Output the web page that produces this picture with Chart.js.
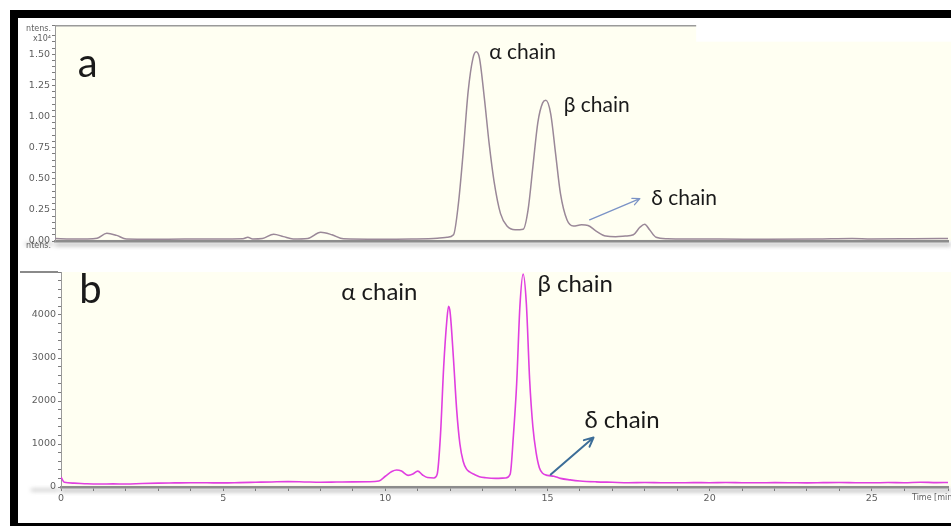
<!DOCTYPE html>
<html>
<head>
<meta charset="utf-8">
<title>Globin chains</title>
<script src="https://cdn.jsdelivr.net/npm/chart.js@4.4.0/dist/chart.umd.min.js"></script>
<style>
  html, body { margin: 0; padding: 0; background: #fff; }
  body { width: 951px; height: 526px; position: relative; overflow: hidden; }
  .frame { position: absolute; left: 10px; top: 10px; width: 960px; height: 521px; border: 8px solid #000; box-sizing: border-box; background: #fff; }
  canvas { position: absolute; }
  #chartA { left: 17px; top: 18px; }
  #chartB { left: 17px; top: 260px; }
</style>
</head>
<body>
<div class="frame"></div>
<canvas id="chartA" width="934" height="242"></canvas>
<canvas id="chartB" width="934" height="263"></canvas>
<script>
// trace a: retention time (min) and intensity (x10^4)
const timeA = [0, 0.5, 1.0, 1.3, 1.6, 1.9, 2.2, 3.0, 4.0, 5.0, 5.8, 5.95, 6.1, 6.4, 6.75, 7.05, 7.35, 7.8, 8.2, 8.55,
  8.9, 10.0, 11.0, 11.8, 12.1, 12.3, 12.45, 12.6, 12.75, 12.9, 13.0, 13.1, 13.25, 13.4, 13.55, 13.75, 13.95, 14.2, 14.45, 14.6,
  14.75, 14.9, 15.05, 15.15, 15.3, 15.45, 15.6, 15.8, 16.0, 16.25, 16.45, 16.7, 17.0, 17.3, 17.6, 17.85, 18.05, 18.2, 18.35, 18.55,
  18.9, 19.5, 20.5, 22.0, 23.5, 24.6, 25.2, 26.5, 27.56];
const intensA = [0.02, 0.016, 0.016, 0.022, 0.062, 0.045, 0.016, 0.014, 0.016, 0.016, 0.018, 0.03, 0.016, 0.02, 0.055, 0.035, 0.016, 0.02, 0.07, 0.05,
  0.018, 0.014, 0.016, 0.022, 0.03, 0.05, 0.3, 0.72, 1.2, 1.47, 1.52, 1.47, 1.15, 0.78, 0.48, 0.22, 0.12, 0.09, 0.095, 0.25,
  0.6, 0.95, 1.11, 1.13, 1.02, 0.7, 0.38, 0.17, 0.12, 0.13, 0.125, 0.08, 0.04, 0.035, 0.04, 0.05, 0.11, 0.135, 0.09, 0.03,
  0.018, 0.016, 0.016, 0.014, 0.016, 0.02, 0.016, 0.018, 0.02];

// trace b: retention time (min) and intensity (counts)
const timeB = [0, 0.1, 0.4, 0.8, 1.2, 1.6, 2.0, 2.5, 3.0, 3.5, 4.0, 4.5, 5.0, 5.5, 6.0, 6.5, 7.0, 7.5, 8.0, 8.5,
  9.0, 9.5, 9.8, 10.0, 10.2, 10.35, 10.5, 10.7, 10.85, 11.0, 11.15, 11.3, 11.5, 11.6, 11.7, 11.8, 11.9, 11.95, 12.0, 12.1,
  12.2, 12.3, 12.4, 12.5, 12.6, 12.75, 12.9, 13.1, 13.4, 13.7, 13.85, 13.95, 14.05, 14.15, 14.25, 14.35, 14.45, 14.55, 14.65, 14.75,
  14.85, 15.0, 15.2, 15.4, 15.7, 16.0, 16.5, 17.0, 17.5, 18.0, 18.5, 19.0, 19.5, 20.0, 20.5, 21.0, 21.5, 22.0, 22.5, 23.0,
  23.5, 24.0, 24.5, 25.0, 25.5, 26.0, 26.5, 27.0, 27.35];
const intensB = [230, 110, 90, 75, 70, 72, 70, 82, 90, 95, 100, 98, 95, 102, 110, 118, 125, 118, 110, 115,
  120, 122, 140, 250, 360, 395, 370, 270, 300, 370, 280, 220, 210, 300, 1200, 2800, 3900, 4200, 4050, 3000,
  1800, 1000, 600, 420, 350, 290, 240, 215, 200, 210, 300, 1200, 2400, 4200, 4950, 4250, 2500, 1400, 800, 450,
  320, 270, 250, 200, 165, 140, 120, 110, 100, 105, 100, 98, 102, 100, 104, 100, 98, 102, 100, 97,
  101, 104, 100, 98, 103, 100, 112, 102, 105];

// labelled tick values
const ticksA = [0, 0.25, 0.5, 0.75, 1.0, 1.25, 1.5];
const ticksB = [0, 1000, 2000, 3000, 4000];
const timeTicksB = [0, 5, 10, 15, 20, 25];

const tickFont = { family: 'DejaVu Sans', size: 9.5 };
const tickColor = '#5e5e5e';
const labelFont = 'Lato, "Open Sans", sans-serif';

function isLabelled(value, list) {
  return list.some(v => Math.abs(v - value) < 1e-6);
}

function toPoints(xs, ys) {
  return xs.map((x, i) => ({ x, y: ys[i] }));
}

// cream plot background, soft axis shadow, text labels and arrows placed in data units
const panelPlugin = {
  id: 'panel',
  beforeDraw(chart, args, opts) {
    const { ctx, chartArea: a } = chart;
    ctx.save();
    ctx.fillStyle = '#fffff2';
    ctx.fillRect(a.left, a.top, chart.width - a.left, a.bottom - a.top);
    if (opts.notch) {
      // upper right corner of panel a is cut away
      const nx = a.left + (a.right - a.left) * opts.notch;
      ctx.fillStyle = '#fff';
      ctx.fillRect(nx, a.top - 1, chart.width - nx, 17);
      ctx.strokeStyle = '#9a9a9a';
      ctx.lineWidth = 1.5;
      ctx.beginPath();
      ctx.moveTo(a.left, a.top);
      ctx.lineTo(nx, a.top);
      ctx.stroke();
    }
    if (opts.topBar) {
      ctx.fillStyle = '#8a8a8a';
      ctx.fillRect(3, a.top - 1, a.left - 6, 2);
    }
    // blurred shadow under the time axis
    ctx.filter = 'blur(2px)';
    ctx.fillStyle = 'rgba(90,90,90,0.45)';
    ctx.fillRect(a.left, a.bottom + 2, chart.width - a.left, 3);
    ctx.fillRect(a.left - 30, a.bottom + 2, 28, 2);
    ctx.filter = 'none';
    ctx.restore();
  },
  afterDraw(chart, args, opts) {
    const { ctx, scales: { x, y }, chartArea: a } = chart;
    ctx.save();
    (opts.arrows || []).forEach(ar => {
      const x1 = x.getPixelForValue(ar.from[0]), y1 = y.getPixelForValue(ar.from[1]);
      const x2 = x.getPixelForValue(ar.to[0]), y2 = y.getPixelForValue(ar.to[1]);
      const ang = Math.atan2(y2 - y1, x2 - x1);
      ctx.strokeStyle = ar.color;
      ctx.lineWidth = ar.width;
      ctx.lineCap = 'round';
      ctx.beginPath();
      ctx.moveTo(x1, y1);
      ctx.lineTo(x2, y2);
      ctx.moveTo(x2, y2);
      ctx.lineTo(x2 - ar.head * Math.cos(ang - 0.45), y2 - ar.head * Math.sin(ang - 0.45));
      ctx.moveTo(x2, y2);
      ctx.lineTo(x2 - ar.head * Math.cos(ang + 0.45), y2 - ar.head * Math.sin(ang + 0.45));
      ctx.stroke();
    });
    ctx.fillStyle = '#1a1a1a';
    ctx.textBaseline = 'alphabetic';
    ctx.textAlign = 'left';
    (opts.labels || []).forEach(lb => {
      ctx.font = lb.size + 'px ' + labelFont;
      ctx.fillText(lb.text, x.getPixelForValue(lb.x), y.getPixelForValue(lb.y));
    });
    // small axis captions
    ctx.fillStyle = tickColor;
    ctx.font = '8px "DejaVu Sans"';
    (opts.captions || []).forEach(c => {
      ctx.textAlign = c.align;
      ctx.textBaseline = 'middle';
      const px = c.side === 'left' ? a.left - 4 : a.right + c.dx;
      const py = c.from === 'top' ? a.top + c.dy : a.bottom + c.dy;
      ctx.fillText(c.text, px, py);
    });
    ctx.restore();
  }
};

const chartA = new Chart(document.getElementById('chartA').getContext('2d'), {
  type: 'line',
  data: {
    datasets: [{
      data: toPoints(timeA, intensA),
      borderColor: '#9a8898',
      borderWidth: 1.5,
      pointRadius: 0,
      cubicInterpolationMode: 'monotone'
    }]
  },
  options: {
    responsive: false,
    animation: false,
    layout: { padding: { top: 6, right: 3 } },
    plugins: {
      legend: { display: false },
      tooltip: { enabled: false },
      panel: {
        notch: 0.718,
        labels: [
          { text: 'a', x: 0.7, y: 1.32, size: 40 },
          { text: 'α chain', x: 13.4, y: 1.46, size: 21 },
          { text: 'β chain', x: 15.7, y: 1.04, size: 21 },
          { text: 'δ chain', x: 18.4, y: 0.29, size: 21 }
        ],
        arrows: [
          { from: [16.5, 0.17], to: [18.05, 0.34], color: '#7b93c6', width: 1.3, head: 8 }
        ],
        captions: [
          { text: 'ntens.', side: 'left', align: 'right', from: 'top', dy: 3 },
          { text: 'x10⁴', side: 'left', align: 'right', from: 'top', dy: 13 },
          { text: 'ntens.', side: 'left', align: 'right', from: 'bottom', dy: 5 }
        ]
      }
    },
    scales: {
      x: {
        type: 'linear',
        min: 0,
        max: 27.56,
        ticks: { display: false },
        grid: { drawOnChartArea: false, drawTicks: false },
        border: { color: '#8c8c8c', width: 2.5 },
        afterFit: scale => { scale.height = 19; }
      },
      y: {
        min: 0,
        max: 1.73,
        ticks: {
          stepSize: 0.05,
          autoSkip: false,
          padding: 2,
          color: tickColor,
          font: tickFont,
          callback: v => isLabelled(v, ticksA) ? v.toFixed(2) : ''
        },
        grid: { drawOnChartArea: false, tickLength: 3, tickColor: '#7c7c7c' },
        border: { color: '#9a9a9a', width: 1 },
        afterFit: scale => { scale.width = 38; }
      }
    }
  },
  plugins: [panelPlugin]
});

const chartB = new Chart(document.getElementById('chartB').getContext('2d'), {
  type: 'line',
  data: {
    datasets: [{
      data: toPoints(timeB, intensB),
      borderColor: '#e03fe0',
      borderWidth: 1.6,
      pointRadius: 0,
      cubicInterpolationMode: 'monotone'
    }]
  },
  options: {
    responsive: false,
    animation: false,
    layout: { padding: { top: 12, right: 3 } },
    plugins: {
      legend: { display: false },
      tooltip: { enabled: false },
      panel: {
        topBar: true,
        labels: [
          { text: 'b', x: 0.56, y: 4280, size: 40 },
          { text: 'α chain', x: 8.64, y: 4350, size: 24 },
          { text: 'β chain', x: 14.69, y: 4530, size: 24 },
          { text: 'δ chain', x: 16.14, y: 1370, size: 24 }
        ],
        arrows: [
          { from: [15.1, 290], to: [16.42, 1150], color: '#3d6e98', width: 2, head: 10 }
        ],
        captions: [
          { text: 'Time [min]', side: 'right', align: 'left', from: 'bottom', dx: -36, dy: 11 }
        ]
      }
    },
    scales: {
      x: {
        type: 'linear',
        min: 0,
        max: 27.35,
        ticks: {
          stepSize: 1,
          autoSkip: false,
          maxRotation: 0,
          padding: 2,
          color: tickColor,
          font: tickFont,
          callback: v => isLabelled(v, timeTicksB) ? String(v) : ''
        },
        grid: { drawOnChartArea: false, tickLength: 4, tickColor: '#7a7a7a' },
        border: { color: '#8c8c8c', width: 2.5 },
        afterFit: scale => { scale.height = 36; }
      },
      y: {
        min: 0,
        max: 5000,
        ticks: {
          stepSize: 200,
          autoSkip: false,
          padding: 2,
          color: tickColor,
          font: tickFont,
          callback: v => isLabelled(v, ticksB) ? String(v) : ''
        },
        grid: { drawOnChartArea: false, tickLength: 3, tickColor: '#7c7c7c' },
        border: { color: '#9a9a9a', width: 1 },
        afterFit: scale => { scale.width = 44; }
      }
    }
  },
  plugins: [panelPlugin]
});
</script>
</body>
</html>
